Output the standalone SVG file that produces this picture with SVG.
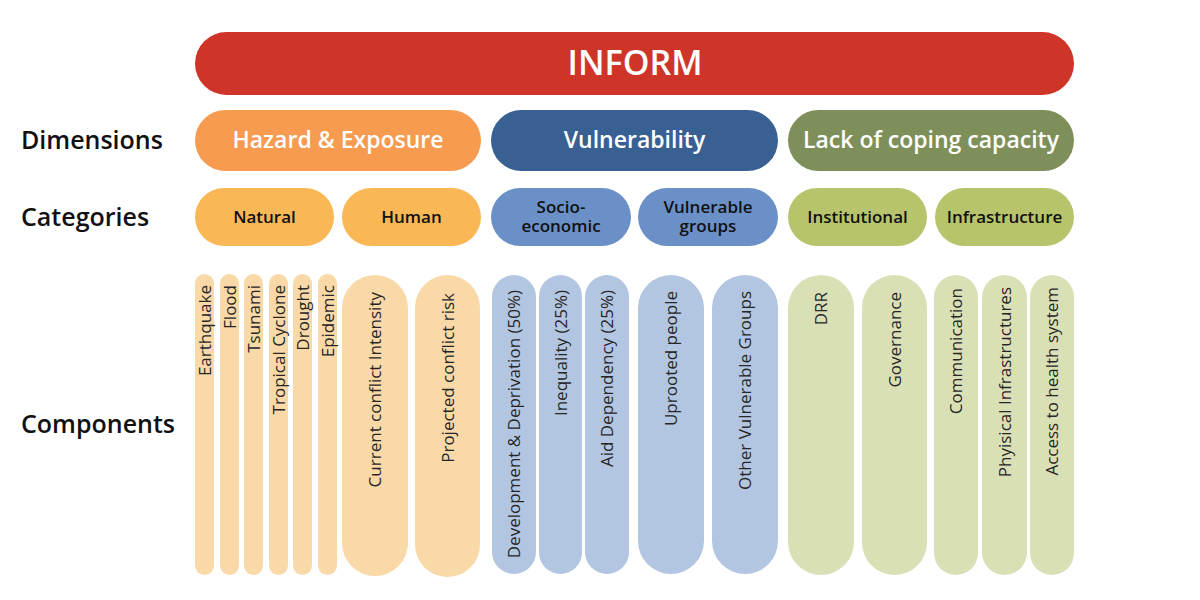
<svg xmlns="http://www.w3.org/2000/svg" width="1200" height="600" viewBox="0 0 1200 600">
<style>
.lbl{font-family:"Open Sans","Liberation Sans",sans-serif;font-weight:600;font-size:25px;fill:#111;dominant-baseline:central}
.top{font-family:"Open Sans","Liberation Sans",sans-serif;font-weight:600;font-size:34px;fill:#fff;text-anchor:middle;dominant-baseline:central}
.dim{font-family:"Open Sans","Liberation Sans",sans-serif;font-weight:600;font-size:23px;fill:#fff;text-anchor:middle;dominant-baseline:central}
.cat{font-family:"Open Sans","Liberation Sans",sans-serif;font-weight:600;font-size:17px;fill:#111;text-anchor:middle;dominant-baseline:central}
.cmp{font-family:"Open Sans","Liberation Sans",sans-serif;font-weight:400;font-size:17px;fill:#262626;text-anchor:end}
.o1{fill:#f69b50}.b1{fill:#386093}.g1{fill:#7e8f59}
.o2{fill:#f9b756}.b2{fill:#6a90c7}.g2{fill:#b8c46b}
.o3{fill:#fad9a8}.b3{fill:#b2c6e2}.g3{fill:#dae0b6}
</style>
<rect width="1200" height="600" fill="#fff"/>
<g id="labels">
<text class="lbl" x="21" y="139">Dimensions</text>
<text class="lbl" x="21" y="216">Categories</text>
<text class="lbl" x="21" y="423">Components</text>
</g>
<g id="inform"><rect x="195" y="32" width="879" height="63" rx="31.5" fill="#cf3429"/><text class="top" x="635" y="62">INFORM</text></g>
<g id="dim-hazard"><rect class="o1" x="195" y="110" width="286" height="61" rx="30.5"/><text class="dim" x="338" y="139">Hazard &amp; Exposure</text></g>
<g id="dim-vuln"><rect class="b1" x="491" y="110" width="287" height="61" rx="30.5"/><text class="dim" x="634.5" y="139">Vulnerability</text></g>
<g id="dim-coping"><rect class="g1" x="788" y="110" width="286" height="61" rx="30.5"/><text class="dim" x="931" y="139">Lack of coping capacity</text></g>
<g id="cat-natural"><rect class="o2" x="195" y="188" width="139" height="58" rx="29"/><text class="cat" x="264.5" y="216">Natural</text></g>
<g id="cat-human"><rect class="o2" x="342" y="188" width="139" height="58" rx="29"/><text class="cat" x="411.5" y="216">Human</text></g>
<g id="cat-socio"><rect class="b2" x="491" y="188" width="140" height="58" rx="29"/><text class="cat" x="561" y="206.5">Socio-</text><text class="cat" x="561" y="225.5">economic</text></g>
<g id="cat-vgroups"><rect class="b2" x="638" y="188" width="140" height="58" rx="29"/><text class="cat" x="708" y="206.5">Vulnerable</text><text class="cat" x="708" y="225.5">groups</text></g>
<g id="cat-institutional"><rect class="g2" x="788" y="188" width="139" height="58" rx="29"/><text class="cat" x="857.5" y="216">Institutional</text></g>
<g id="cat-infrastructure"><rect class="g2" x="935" y="188" width="139" height="58" rx="29"/><text class="cat" x="1004.5" y="216">Infrastructure</text></g>
<g id="c-earthquake"><rect class="o3" x="195" y="274" width="19" height="301" rx="9.5"/><text class="cmp" transform="translate(210.5 285) rotate(-90)">Earthquake</text></g>
<g id="c-flood"><rect class="o3" x="220" y="274" width="19" height="301" rx="9.5"/><text class="cmp" transform="translate(235.5 285) rotate(-90)">Flood</text></g>
<g id="c-tsunami"><rect class="o3" x="244" y="274" width="19" height="301" rx="9.5"/><text class="cmp" transform="translate(259.5 285) rotate(-90)">Tsunami</text></g>
<g id="c-cyclone"><rect class="o3" x="269" y="274" width="19" height="301" rx="9.5"/><text class="cmp" transform="translate(284.5 285) rotate(-90)">Tropical Cyclone</text></g>
<g id="c-drought"><rect class="o3" x="293" y="274" width="19" height="301" rx="9.5"/><text class="cmp" transform="translate(308.5 285) rotate(-90)">Drought</text></g>
<g id="c-epidemic"><rect class="o3" x="318" y="274" width="19" height="301" rx="9.5"/><text class="cmp" transform="translate(333.5 285) rotate(-90)">Epidemic</text></g>
<g id="c-current"><rect class="o3" x="342" y="275" width="66" height="301" rx="33"/><text class="cmp" transform="translate(381 292) rotate(-90)">Current conflict Intensity</text></g>
<g id="c-projected"><rect class="o3" x="415" y="275" width="65" height="302" rx="32.5"/><text class="cmp" transform="translate(453.5 293) rotate(-90)">Projected conflict risk</text></g>
<g id="c-development"><rect class="b3" x="492" y="275" width="44" height="299" rx="22"/><text class="cmp" transform="translate(520 290) rotate(-90)">Development &amp; Deprivation (50%)</text></g>
<g id="c-inequality"><rect class="b3" x="539" y="275" width="43" height="299" rx="21.5"/><text class="cmp" transform="translate(566.5 290) rotate(-90)">Inequality (25%)</text></g>
<g id="c-aid"><rect class="b3" x="585" y="275" width="44" height="299" rx="22"/><text class="cmp" transform="translate(613 290) rotate(-90)">Aid Dependency (25%)</text></g>
<g id="c-uprooted"><rect class="b3" x="638" y="275" width="66" height="299" rx="33"/><text class="cmp" transform="translate(677 291) rotate(-90)">Uprooted people</text></g>
<g id="c-othervg"><rect class="b3" x="712" y="275" width="66" height="299" rx="33"/><text class="cmp" transform="translate(751 291) rotate(-90)">Other Vulnerable Groups</text></g>
<g id="c-drr"><rect class="g3" x="788" y="275" width="66" height="300" rx="33"/><text class="cmp" transform="translate(827 292) rotate(-90)">DRR</text></g>
<g id="c-governance"><rect class="g3" x="862" y="275" width="65" height="300" rx="32.5"/><text class="cmp" transform="translate(900.5 292) rotate(-90)">Governance</text></g>
<g id="c-communication"><rect class="g3" x="934" y="275" width="44" height="300" rx="22"/><text class="cmp" transform="translate(962 288) rotate(-90)">Communication</text></g>
<g id="c-physical"><rect class="g3" x="982" y="275" width="45" height="300" rx="22.5"/><text class="cmp" transform="translate(1010.5 287) rotate(-90)">Phyisical Infrastructures</text></g>
<g id="c-health"><rect class="g3" x="1030" y="275" width="44" height="300" rx="22"/><text class="cmp" transform="translate(1058 287) rotate(-90)">Access to health system</text></g>
<g id="connectors"></g>
</svg>
